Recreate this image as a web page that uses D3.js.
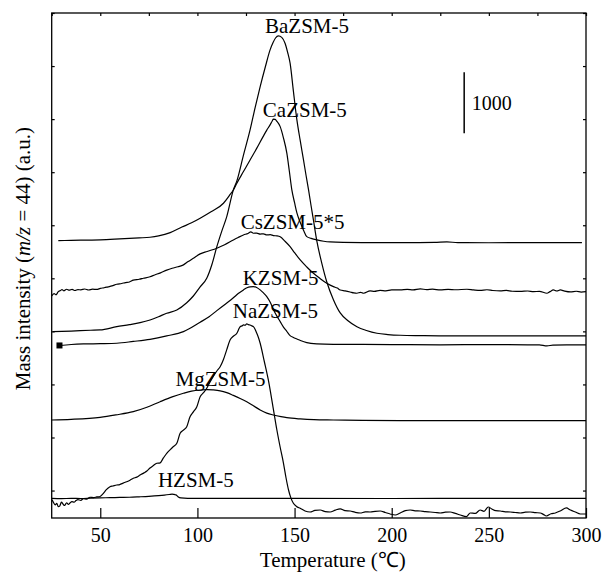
<!DOCTYPE html>
<html>
<head>
<meta charset="utf-8">
<script src="https://cdn.jsdelivr.net/npm/d3@7"></script>
<style>
  body { margin: 0; background: #fff; }
  text { font-family: "Liberation Serif", "Times New Roman", serif; fill: #000; }
</style>
</head>
<body>
<div id="chart"></div>
<script>
// temperature (C) vs. mass intensity (a.u., curves stacked with offsets)
const xTicks = [50, 100, 150, 200, 250, 300];
const xMinorTicks = [25, 50, 75, 100, 125, 150, 175, 200, 225, 250, 275, 300];
const yTicks = [8280, 7410, 6540, 5670, 4800, 3930, 3060, 2190, 1320, 450];

const baZSM5 = [[25.5, 3055], [35, 3065], [45, 3078], [49.9, 3083], [58.5, 3137], [65, 3170], [70.5, 3203],
  [75.6, 3247], [80, 3300], [84.2, 3357], [89.4, 3411], [94.5, 3530], [97.9, 3640], [101.4, 3790], [104.8, 3930],
  [107.5, 4160], [110, 4449], [112.5, 4700], [115.1, 4941], [118.5, 5379], [120.3, 5527], [123.7, 5950],
  [127.1, 6363], [129.7, 6730], [132.3, 7073], [134.9, 7390], [137.4, 7675], [139, 7800], [140.2, 7870],
  [141.7, 7905], [143.4, 7880], [145.1, 7785], [146.4, 7640], [147.7, 7457], [149.4, 7000], [151.2, 6527],
  [152.9, 6190], [154.6, 5871], [155.9, 5620], [157.2, 5379], [158.5, 5120], [159.7, 4887], [161.5, 4535],
  [164, 4180], [166.6, 3870], [170, 3580], [173.5, 3362], [177.5, 3235], [182.1, 3137], [187, 3075],
  [192.4, 3029], [198, 3008], [204.4, 2996], [215, 2990], [230, 2985], [260, 2985], [300, 2985]];

const caZSM5 = [[28.4, 4548], [35, 4552], [40, 4555], [50, 4560], [60, 4575], [70, 4592], [75.6, 4603],
  [80, 4625], [86, 4679], [92, 4770], [97, 4840], [101.4, 4915], [107, 5020], [113.4, 5161], [116.5, 5290],
  [118.5, 5379], [120.3, 5489], [123.7, 5680], [127.1, 5871], [130.5, 6060], [133.8, 6253], [135.7, 6360],
  [137.4, 6445], [138.5, 6510], [139.1, 6539], [140, 6535], [140.9, 6505], [142.6, 6417], [144.3, 6230],
  [146, 5986], [147.3, 5690], [148.6, 5379], [150, 5170], [151.2, 5002], [153, 4840], [154.6, 4720],
  [156.3, 4613], [158.5, 4585], [161.5, 4559], [165, 4538], [168.3, 4526], [175, 4518], [190, 4515],
  [210, 4515], [222, 4518], [228.4, 4528], [234, 4515], [250, 4513], [270, 4516], [297.9, 4515]];

const csZSM5 = [[25, 3640], [26.2, 3680], [27.2, 3660], [28.4, 3711], [29.5, 3730], [30.3, 3745], [31.2, 3725],
  [32.7, 3751], [34, 3735], [35.5, 3750], [37, 3730], [38.5, 3745], [40, 3740], [42, 3755], [44, 3738],
  [46, 3752], [48.2, 3748], [50, 3765], [52, 3775], [54, 3790], [56, 3805], [58.5, 3833], [61, 3845],
  [63, 3860], [65, 3870], [67, 3900], [70, 3915], [72.2, 3931], [75.6, 3955], [78, 3985], [81, 4020],
  [84.2, 4065], [87, 4095], [90, 4120], [92.8, 4150], [95, 4200], [97.9, 4259], [101.4, 4330], [105, 4370],
  [110, 4423], [114, 4480], [118.5, 4559], [121, 4600], [123.7, 4641], [126, 4665], [127.5, 4690],
  [128.8, 4669], [130.5, 4670], [132.3, 4655], [134, 4660], [135.7, 4641], [137.5, 4645], [139.1, 4630],
  [141, 4625], [142.6, 4610], [145, 4540], [147.7, 4449], [150, 4350], [152.9, 4231], [156.3, 4116],
  [159.7, 4013], [163, 3930], [166.6, 3849], [170, 3793], [172, 3770], [173.5, 3739], [176, 3725],
  [178.6, 3706], [180.5, 3690], [182.1, 3685], [184, 3700], [185.5, 3685], [188.9, 3723], [191, 3715],
  [194, 3731], [197, 3725], [200, 3740], [204.4, 3739], [208, 3748], [211, 3740], [214.7, 3756], [218, 3745],
  [221, 3752], [225, 3739], [229, 3750], [233, 3742], [238.7, 3751], [242, 3740], [245.5, 3731], [249, 3742],
  [252, 3730], [255.9, 3723], [259, 3732], [262, 3718], [266.2, 3715], [270, 3722], [273, 3711], [276, 3716],
  [279.9, 3685], [281.5, 3712], [283.2, 3739], [285, 3722], [286.8, 3739], [289, 3720], [292, 3706],
  [295, 3718], [297.5, 3705], [300, 3711]];

const kZSM5 = [[29, 2829], [35, 2845], [41.3, 2854], [50, 2858], [58.5, 2865], [67, 2895], [75.6, 2930],
  [84.2, 2985], [92.8, 3055], [101.4, 3210], [106, 3300], [110, 3400], [114.5, 3510], [118.5, 3610],
  [121, 3680], [123.7, 3740], [125.5, 3775], [127.1, 3790], [128.8, 3793], [130.5, 3780], [132.3, 3740],
  [134, 3690], [135.7, 3629], [137.4, 3540], [139.1, 3420], [140.9, 3310], [142.6, 3220], [144.3, 3130],
  [146, 3060], [147.7, 2990], [149.4, 2960], [151.2, 2935], [153, 2910], [156.3, 2875], [161.5, 2856],
  [170, 2848], [185, 2846], [200, 2844], [225, 2840], [250, 2843], [270, 2840], [276, 2838], [279.9, 2821],
  [283, 2835], [290, 2838], [300, 2837]];

const naZSM5 = [[25.2, 300], [26, 250], [26.8, 215], [27.6, 240], [28.4, 185], [29.2, 200], [30, 260],
  [30.8, 230], [31.6, 205], [32.7, 250], [33.6, 225], [34.4, 245], [35.4, 270], [36.5, 258], [37.5, 285],
  [38.5, 300], [40, 290], [41.3, 318], [43, 308], [44.7, 340], [46.5, 335], [48.2, 345], [49.9, 352],
  [51.5, 400], [53, 460], [55, 513], [56.5, 525], [58.5, 541], [60, 548], [61.8, 572], [63.6, 595],
  [65.3, 620], [67, 651], [68.8, 670], [70.5, 705], [72.5, 740], [74, 770], [75.6, 820], [77.3, 860],
  [79.1, 897], [80.8, 905], [82.5, 985], [84.2, 1061], [86, 1120], [87.6, 1170], [89.4, 1225], [91.1, 1389],
  [92.8, 1440], [94.5, 1497], [96.2, 1661], [97.9, 1740], [99.7, 1825], [101.4, 1989], [103, 2050],
  [104.8, 2127], [106.5, 2230], [108.3, 2330], [110, 2410], [111.7, 2481], [113.4, 2600], [115.1, 2760],
  [116.8, 2919], [118.5, 2980], [120.3, 3029], [121.2, 3090], [122, 3137], [123, 3150], [123.7, 3165],
  [124.5, 3160], [125.4, 3182], [126.2, 3170], [127.1, 3165], [128, 3150], [128.8, 3137], [129.6, 3100],
  [130.5, 3034], [131.4, 2960], [132.3, 2865], [134.4, 2570], [136.5, 2263], [138.7, 1860], [140.9, 1443],
  [142.6, 1160], [144.3, 897], [145.6, 660], [146.9, 459], [148.1, 330], [149.4, 241], [151, 190],
  [152.9, 159], [155.4, 115], [158, 98], [160.5, 125], [163.2, 131], [165.8, 105], [168.3, 98], [171, 130],
  [173.5, 148], [176, 120], [178.6, 115], [181, 95], [183.8, 82], [186.4, 100], [188.9, 98], [191.5, 110],
  [194.1, 115], [196.7, 90], [199.2, 66], [201.8, 49], [204.4, 82], [207, 120], [209.5, 131], [212, 118],
  [214.7, 115], [217.3, 105], [219.8, 98], [222.4, 90], [225, 82], [227.6, 95], [230.1, 98], [232.7, 75],
  [235.3, 49], [238.4, 21], [240.4, 82], [243, 75], [245.5, 131], [247.5, 110], [249.7, 180], [251.5, 148],
  [253.5, 120], [255.9, 115], [258.5, 100], [261, 98], [263.6, 90], [266.2, 82], [268.8, 95], [271.3, 98],
  [274, 88], [276.5, 82], [278, 60], [279.6, 33], [282, 70], [284.2, 82], [287, 120], [289.9, 165],
  [292, 130], [294.5, 98], [297.1, 66], [300, 66]];

const mgZSM5 = [[25, 1607], [35, 1618], [49.9, 1651], [58, 1690], [67, 1743], [74, 1815], [80.8, 1907],
  [87, 1985], [92.8, 2045], [97, 2080], [101.4, 2099], [105, 2106], [108, 2100], [111.7, 2085], [115.1, 2055],
  [118.5, 2010], [122, 1960], [125.4, 1905], [128.8, 1840], [132.3, 1771], [135.7, 1720], [139.1, 1689],
  [143, 1662], [146, 1645], [152.9, 1624], [160, 1612], [170, 1607], [185, 1600], [204.4, 1596], [250, 1596],
  [300, 1596]];

const hZSM5 = [[25, 323], [30, 318], [35, 322], [40, 320], [45, 325], [49.9, 330], [55, 333], [60, 337],
  [65, 340], [70, 347], [75, 355], [80, 366], [83, 375], [85.5, 385], [87, 392], [88, 386], [89, 380],
  [90, 350], [91.5, 330], [95, 323], [110, 322], [150, 322], [200, 320], [250, 322], [300, 322]];

const series = [baZSM5, caZSM5, csZSM5, kZSM5, naZSM5, mgZSM5, hZSM5];

// curve labels: text, temperature, intensity at text baseline
const labelNames = ['BaZSM-5', 'CaZSM-5', 'CsZSM-5*5', 'KZSM-5', 'NaZSM-5', 'MgZSM-5', 'HZSM-5'];
const labelT = [156.4, 155.3, 149, 142.8, 140.1, 111.9, 99.2];
const labelV = [7959, 6571, 4735, 3821, 3275, 2165, 513];

// scale bar
const barT = 237.3;
const barV = [6310, 7310];
const barText = '1000';

const W = 603, H = 574;
const margin = { top: 13, right: 17, bottom: 56, left: 51.7 };
const width = W - margin.left - margin.right;
const height = H - margin.top - margin.bottom;

const svg = d3
  .select('#chart')
  .append('svg')
  .attr('width', W)
  .attr('height', H)
  .append('g')
  .attr('transform', `translate(${margin.left}, ${margin.top})`);

const x = d3.scaleLinear().domain([25, 300]).range([0, width]);
const y = d3.scaleLinear().domain([0, 8280]).range([height, 0]);

// axes (ticks point inward)
const bottom = svg
  .append('g')
  .attr('transform', `translate(0, ${height})`)
  .call(d3.axisBottom(x).tickValues(xTicks).tickSizeInner(-10).tickSizeOuter(0).tickPadding(9.5));
bottom.selectAll('text').attr('font-size', '20px').attr('font-family', '"Liberation Serif", serif');

svg.append('g')
  .call(d3.axisTop(x).tickValues(xMinorTicks).tickSizeInner(-3).tickSizeOuter(0).tickFormat(''));
svg.append('g')
  .call(d3.axisLeft(y).tickValues(yTicks).tickSizeInner(-3).tickSizeOuter(0).tickFormat(''));
svg.append('g')
  .attr('transform', `translate(${width}, 0)`)
  .call(d3.axisRight(y).tickValues(yTicks).tickSizeInner(-3).tickSizeOuter(0).tickFormat(''));

svg.selectAll('.domain').remove();
svg.selectAll('.tick line').attr('stroke', '#000').attr('stroke-width', 1.2);

// frame
svg.append('rect')
  .attr('width', width)
  .attr('height', height)
  .attr('fill', 'none')
  .attr('stroke', '#000')
  .attr('stroke-width', 1.3);

const line = d3.line()
  .x(d => x(d[0]))
  .y(d => y(d[1]))
  .curve(d3.curveMonotoneX);

svg.selectAll('.curve')
  .data(series)
  .enter()
  .append('path')
  .attr('class', 'curve')
  .attr('d', line)
  .attr('fill', 'none')
  .attr('stroke', '#000')
  .attr('stroke-width', 1.2);

// small square at the start of the K trace
svg.append('rect')
  .attr('x', x(kZSM5[0][0]) - 3)
  .attr('y', y(kZSM5[0][1]) - 3)
  .attr('width', 6)
  .attr('height', 6)
  .attr('fill', '#000');

svg.selectAll('.label')
  .data(labelNames)
  .enter()
  .append('text')
  .attr('class', 'label')
  .attr('x', (d, i) => x(labelT[i]))
  .attr('y', (d, i) => y(labelV[i]))
  .attr('text-anchor', 'middle')
  .attr('font-size', '21px')
  .text(d => d);

svg.append('line')
  .attr('x1', x(barT))
  .attr('x2', x(barT))
  .attr('y1', y(barV[0]))
  .attr('y2', y(barV[1]))
  .attr('stroke', '#000')
  .attr('stroke-width', 1.5);

svg.append('text')
  .attr('x', x(barT) + 7.5)
  .attr('y', y((barV[0] + barV[1]) / 2) + 7)
  .attr('font-size', '20px')
  .text(barText);

// x label
svg.append('text')
  .attr('x', width / 2 + 14)
  .attr('y', height + 49)
  .attr('text-anchor', 'middle')
  .attr('font-size', '21px')
  .text('Temperature (℃)');

// y label
const yl = svg.append('text')
  .attr('transform', `translate(-21.7, ${height / 2 - 7}) rotate(-90)`)
  .attr('text-anchor', 'middle')
  .attr('font-size', '21px');
yl.append('tspan').text('Mass intensity (');
yl.append('tspan').attr('font-style', 'italic').text('m/z');
yl.append('tspan').text(' = 44) (a.u.)');
</script>
</body>
</html>
